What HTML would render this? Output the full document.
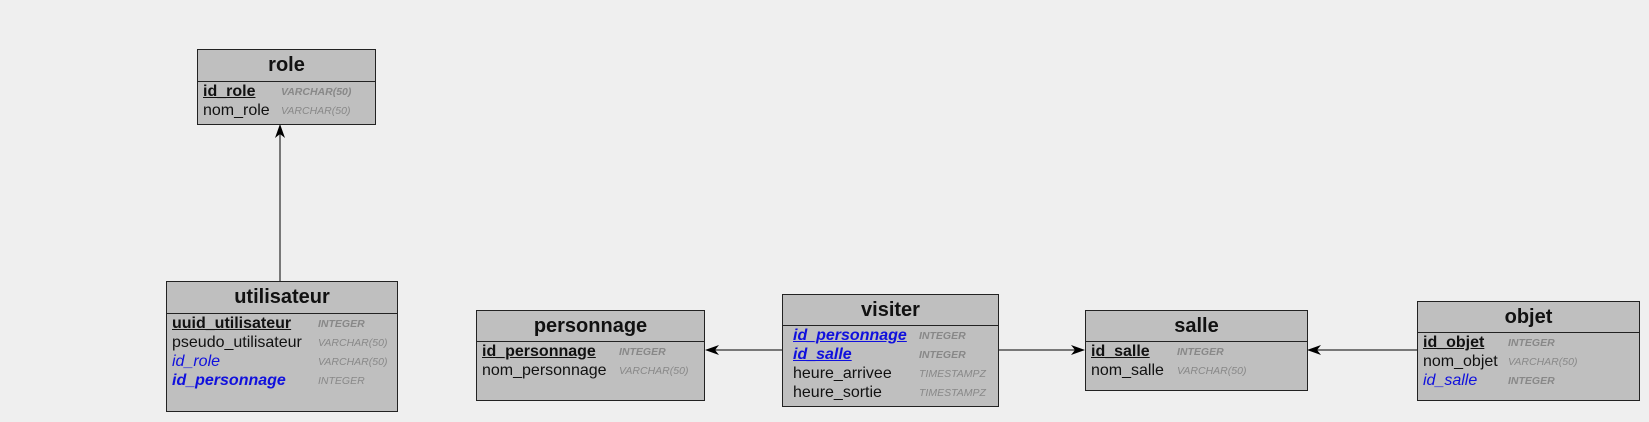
<!DOCTYPE html><html><head><style>
body{margin:0;width:1649px;height:422px;background:#efefef;position:relative;overflow:hidden;font-family:"Liberation Sans",sans-serif}
.t{position:absolute;background:#bfbfbf;border:1px solid #222;box-sizing:border-box}
.h{height:30px;border-bottom:1px solid #222;text-align:center;font-weight:bold;font-size:20px;color:#111;line-height:30px}
.row{position:relative;height:19px;line-height:19px;white-space:nowrap}
.n{position:absolute;left:5px;font-size:16px;color:#111}
.ty{position:absolute;font-size:10.5px;font-style:italic;color:#888;top:1px}
.k{font-weight:bold;text-decoration:underline}
.f{color:#1010dd;font-style:italic}
.b{font-weight:bold}
</style></head><body>
<svg width="1649" height="422" style="position:absolute;left:0;top:0">
<defs><marker id="a" markerWidth="14" markerHeight="10" refX="13" refY="5" orient="auto" markerUnits="userSpaceOnUse"><path d="M0,0 L14,5 L0,10 L4,5 Z" fill="#000"/></marker></defs>
<line x1="280" y1="281" x2="280" y2="125" stroke="#000" marker-end="url(#a)"/>
<line x1="782" y1="350" x2="706" y2="350" stroke="#000" marker-end="url(#a)"/>
<line x1="998" y1="350" x2="1084" y2="350" stroke="#000" marker-end="url(#a)"/>
<line x1="1417" y1="350" x2="1308" y2="350" stroke="#000" marker-end="url(#a)"/>
</svg>

<div class="t" style="left:197px;top:49px;width:179px;height:76px"><div class="h" style="height:31px;line-height:31px">role</div>
<div class="row"><span class="n k">id_role</span><span class="ty b" style="left:83px">VARCHAR(50)</span></div>
<div class="row"><span class="n">nom_role</span><span class="ty" style="left:83px">VARCHAR(50)</span></div></div>

<div class="t" style="left:166px;top:281px;width:232px;height:131px"><div class="h" style="height:31px;line-height:31px">utilisateur</div>
<div class="row"><span class="n k">uuid_utilisateur</span><span class="ty b" style="left:151px">INTEGER</span></div>
<div class="row"><span class="n">pseudo_utilisateur</span><span class="ty" style="left:151px">VARCHAR(50)</span></div>
<div class="row"><span class="n f">id_role</span><span class="ty" style="left:151px">VARCHAR(50)</span></div>
<div class="row"><span class="n f b">id_personnage</span><span class="ty" style="left:151px">INTEGER</span></div></div>

<div class="t" style="left:476px;top:310px;width:229px;height:91px"><div class="h">personnage</div>
<div class="row"><span class="n k">id_personnage</span><span class="ty b" style="left:142px">INTEGER</span></div>
<div class="row"><span class="n">nom_personnage</span><span class="ty" style="left:142px">VARCHAR(50)</span></div></div>

<div class="t" style="left:782px;top:294px;width:217px;height:113px"><div class="h">visiter</div>
<div class="row"><span class="n k f b" style="left:10px">id_personnage</span><span class="ty b" style="left:136px">INTEGER</span></div>
<div class="row"><span class="n k f b" style="left:10px">id_salle</span><span class="ty b" style="left:136px">INTEGER</span></div>
<div class="row"><span class="n" style="left:10px">heure_arrivee</span><span class="ty" style="left:136px">TIMESTAMPZ</span></div>
<div class="row"><span class="n" style="left:10px">heure_sortie</span><span class="ty" style="left:136px">TIMESTAMPZ</span></div></div>

<div class="t" style="left:1085px;top:310px;width:223px;height:81px"><div class="h">salle</div>
<div class="row"><span class="n k">id_salle</span><span class="ty b" style="left:91px">INTEGER</span></div>
<div class="row"><span class="n">nom_salle</span><span class="ty" style="left:91px">VARCHAR(50)</span></div></div>

<div class="t" style="left:1417px;top:301px;width:223px;height:100px"><div class="h">objet</div>
<div class="row"><span class="n k">id_objet</span><span class="ty b" style="left:90px">INTEGER</span></div>
<div class="row"><span class="n">nom_objet</span><span class="ty" style="left:90px">VARCHAR(50)</span></div>
<div class="row"><span class="n f">id_salle</span><span class="ty b" style="left:90px">INTEGER</span></div></div>
</body></html>
